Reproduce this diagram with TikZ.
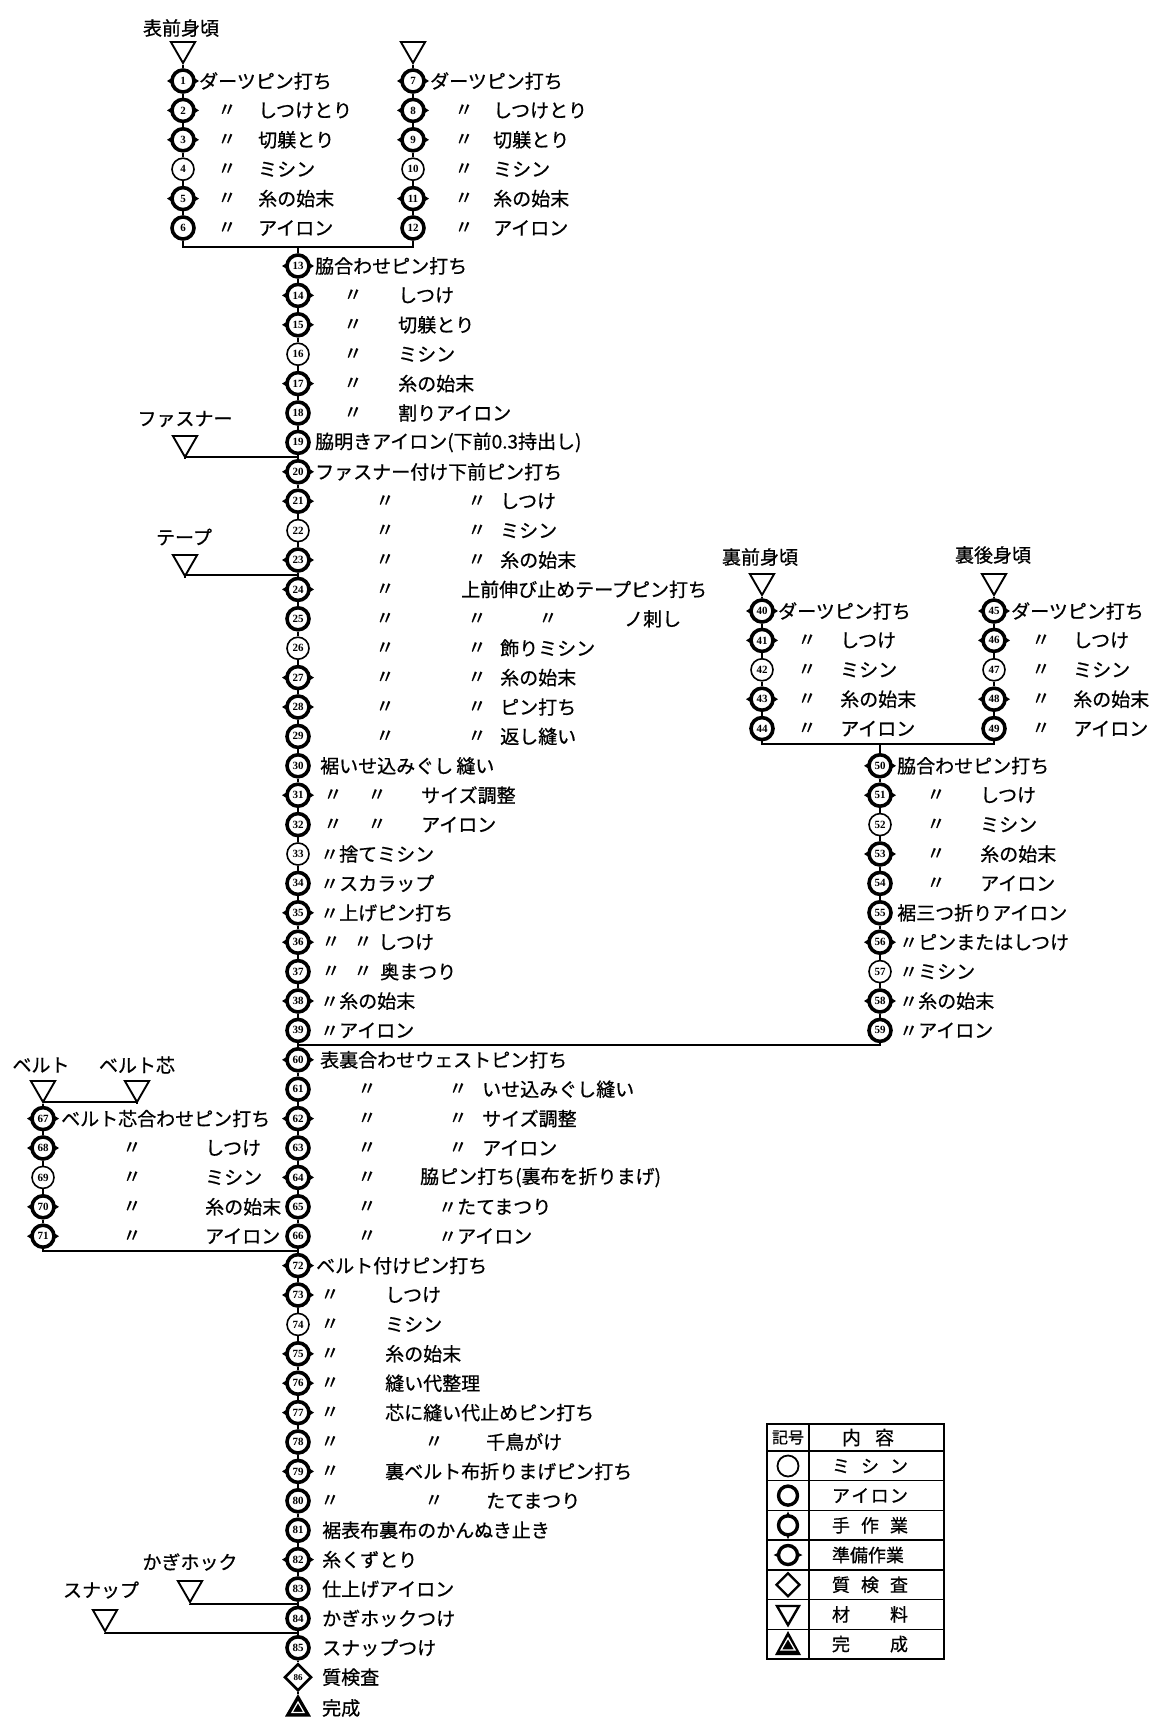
\documentclass[tikz,border=0pt]{standalone}
\usepackage{fontspec}
\setmainfont{Noto Sans CJK JP}[FakeBold=0.7]
\newfontfamily\numf{Liberation Serif}
\usetikzlibrary{shapes.geometric}
\tikzset{
  lbl/.style={anchor=west, inner sep=0pt, font=\fontsize{19}{19}\selectfont},
  dit/.style={anchor=center, inner sep=0pt, font=\fontsize{19}{19}\selectfont},
  hd/.style={inner sep=0pt, font=\fontsize{19}{19}\selectfont},
  base/.style={circle, draw, fill=white, minimum size=22pt, inner sep=0pt, font=\numf\bfseries\fontsize{11}{11}\selectfont},
  mst/.style={base, line width=1.6pt},
  ast/.style={base, line width=3.6pt},
  conn/.style={line width=1.6pt},
  joinline/.style={line width=2.4pt},
  mat/.style={regular polygon, regular polygon sides=3, shape border rotate=180, draw, line width=1.9pt, minimum size=28pt, inner sep=0pt},
}
\newcommand\Ms[3]{\node[mst] (n#1) at (#2,#3) {#1};}
\newcommand\As[3]{\node[ast] (n#1) at (#2,#3) {#1};}
\newcommand\Ps[3]{\fill (#2-16,#3) -- (#2,#3-10) -- (#2+16,#3) -- (#2,#3+10) -- cycle; \node[ast] (n#1) at (#2,#3) {#1};}
\newcommand\T[4]{\node[lbl] (#1) at (#2,#3) {#4};}
\newcommand\D[3]{\node[dit] (#1) at (#2,#3) {〃};}
\begin{document}
\begin{tikzpicture}[x=1pt,y=-1pt]
\fill[white] (0,0) rectangle (1160,1731);
\useasboundingbox (0,0) rectangle (1160,1731);

% ---------- materials ----------
\node[mat] (tA) at (183,49) {};  \node[hd] (lA) at (181,28) {表前身頃};
\node[mat] (tB) at (413,49) {};
\node[mat] (tC) at (762,581) {}; \node[hd] (lC) at (760,557) {裏前身頃};
\node[mat] (tD) at (994,581) {}; \node[hd] (lD) at (993,555) {裏後身頃};
\node[mat] (tF) at (185,443) {}; \node[hd] (lF) at (185,419) {ファスナー};
\node[mat] (tT) at (185,562) {}; \node[hd] (lT) at (184,537) {テープ};
\node[mat] (tBe) at (43,1088) {}; \node[hd] (lBe) at (41,1065) {ベルト};
\node[mat] (tBc) at (137,1088) {}; \node[hd] (lBc) at (137,1065) {ベルト芯};
\node[mat] (tK) at (190,1588) {}; \node[hd] (lK) at (190,1562) {かぎホック};
\node[mat] (tS) at (105,1617) {}; \node[hd] (lS) at (101,1590) {スナップ};

% ---------- top left 1-6 ----------
\Ps{1}{183}{81}     \T{t1}{199}{81}{ダーツピン打ち}
\Ps{2}{183}{110.4}  \D{d2}{227}{110.4} \T{t2}{258}{110.4}{しつけとり}
\Ps{3}{183}{139.8}  \D{d3}{227}{139.8} \T{t3}{258}{139.8}{切躾とり}
\Ms{4}{183}{169.2}  \D{d4}{227}{169.2} \T{t4}{258}{169.2}{ミシン}
\Ps{5}{183}{198.6}  \D{d5}{227}{198.6} \T{t5}{258}{198.6}{糸の始末}
\As{6}{183}{228}    \D{d6}{227}{228}   \T{t6}{258}{228}{アイロン}
% ---------- top right 7-12 ----------
\Ps{7}{413}{81}     \T{t7}{430}{81}{ダーツピン打ち}
\Ps{8}{413}{110.4}  \D{d8}{464}{110.4}  \T{t8}{493}{110.4}{しつけとり}
\Ps{9}{413}{139.8}  \D{d9}{464}{139.8}  \T{t9}{493}{139.8}{切躾とり}
\Ms{10}{413}{169.2} \D{d10}{464}{169.2} \T{t10}{493}{169.2}{ミシン}
\Ps{11}{413}{198.6} \D{d11}{464}{198.6} \T{t11}{493}{198.6}{糸の始末}
\As{12}{413}{228}   \D{d12}{464}{228}   \T{t12}{493}{228}{アイロン}

% ---------- main column ----------
\Ps{13}{298}{266}    \T{t13}{315}{266}{脇合わせピン打ち}
\Ps{14}{298}{295.4}  \D{d14}{353}{295.4} \T{t14}{398}{295.4}{しつけ}
\Ps{15}{298}{324.8}  \D{d15}{353}{324.8} \T{t15}{398}{324.8}{切躾とり}
\Ms{16}{298}{354.2}  \D{d16}{353}{354.2} \T{t16}{398}{354.2}{ミシン}
\Ps{17}{298}{383.6}  \D{d17}{353}{383.6} \T{t17}{398}{383.6}{糸の始末}
\As{18}{298}{413}    \D{d18}{353}{413}   \T{t18}{398}{413}{割りアイロン}
\As{19}{298}{442.4}  \T{t19}{315}{442.4}{脇明きアイロン(下前0.3持出し)}
\Ps{20}{298}{471.8}  \T{t20}{315}{471.8}{ファスナー付け下前ピン打ち}
\Ps{21}{298}{501.2}  \D{d21a}{385}{501.2} \D{d21b}{477}{501.2} \T{t21}{500}{501.2}{しつけ}
\Ms{22}{298}{530.6}  \D{d22a}{385}{530.6} \D{d22b}{477}{530.6} \T{t22}{500}{530.6}{ミシン}
\Ps{23}{298}{560}    \D{d23a}{385}{560}   \D{d23b}{477}{560}   \T{t23}{500}{560}{糸の始末}
\Ps{24}{298}{589.4}  \D{d24a}{385}{589.4} \T{t24}{461}{589.4}{上前伸び止めテープピン打ち}
\As{25}{298}{618.8}  \D{d25a}{385}{618.8} \D{d25b}{477}{618.8} \D{d25c}{548}{618.8} \T{t25}{624}{618.8}{ノ刺し}
\Ms{26}{298}{648.2}  \D{d26a}{385}{648.2} \D{d26b}{477}{648.2} \T{t26}{500}{648.2}{飾りミシン}
\Ps{27}{298}{677.6}  \D{d27a}{385}{677.6} \D{d27b}{477}{677.6} \T{t27}{500}{677.6}{糸の始末}
\Ps{28}{298}{707}    \D{d28a}{385}{707}   \D{d28b}{477}{707}   \T{t28}{500}{707}{ピン打ち}
\As{29}{298}{736.4}  \D{d29a}{385}{736.4} \D{d29b}{477}{736.4} \T{t29}{500}{736.4}{返し縫い}
\As{30}{298}{765.8}  \T{t30}{320}{765.8}{裾いせ込みぐし\,縫い}
\Ps{31}{298}{795.2}  \D{d31a}{333}{795.2} \D{d31b}{377}{795.2} \T{t31}{421}{795.2}{サイズ調整}
\As{32}{298}{824.6}  \D{d32a}{333}{824.6} \D{d32b}{377}{824.6} \T{t32}{421}{824.6}{アイロン}
\Ms{33}{298}{854}    \T{t33}{320}{854}{〃捨てミシン}
\As{34}{298}{883.4}  \T{t34}{320}{883.4}{〃スカラップ}
\Ps{35}{298}{912.8}  \T{t35}{320}{912.8}{〃上げピン打ち}
\Ps{36}{298}{942.2}  \D{d36a}{331}{942.2} \D{d36b}{363}{942.2} \T{t36}{378}{942.2}{しつけ}
\As{37}{298}{971.6}  \D{d37a}{331}{971.6} \D{d37b}{363}{971.6} \T{t37}{380}{971.6}{奥まつり}
\Ps{38}{298}{1001}   \T{t38}{320}{1001}{〃糸の始末}
\As{39}{298}{1030.4} \T{t39}{320}{1030.4}{〃アイロン}
\Ps{60}{298}{1059.8} \T{t60}{320}{1059.8}{表裏合わせウェストピン打ち}
\As{61}{298}{1089.2} \D{d61a}{367}{1089.2} \D{d61b}{458}{1089.2} \T{t61}{482}{1089.2}{いせ込みぐし縫い}
\Ps{62}{298}{1118.6} \D{d62a}{367}{1118.6} \D{d62b}{458}{1118.6} \T{t62}{482}{1118.6}{サイズ調整}
\As{63}{298}{1148}   \D{d63a}{367}{1148}   \D{d63b}{458}{1148}   \T{t63}{482}{1148}{アイロン}
\Ps{64}{298}{1177.4} \D{d64a}{367}{1177.4} \T{t64}{420}{1177.4}{脇ピン打ち(裏布を折りまげ)}
\As{65}{298}{1206.8} \D{d65a}{367}{1206.8} \T{t65}{438}{1206.8}{〃たてまつり}
\As{66}{298}{1236.2} \D{d66a}{367}{1236.2} \T{t66}{438}{1236.2}{〃アイロン}
\Ps{72}{298}{1265.6} \T{t72}{316}{1265.6}{ベルト付けピン打ち}
\Ps{73}{298}{1295}   \D{d73}{330}{1295}   \T{t73}{385}{1295}{しつけ}
\Ms{74}{298}{1324.4} \D{d74}{330}{1324.4} \T{t74}{385}{1324.4}{ミシン}
\Ps{75}{298}{1353.8} \D{d75}{330}{1353.8} \T{t75}{385}{1353.8}{糸の始末}
\Ps{76}{298}{1383.2} \D{d76}{330}{1383.2} \T{t76}{385}{1383.2}{縫い代整理}
\Ps{77}{298}{1412.6} \D{d77}{330}{1412.6} \T{t77}{385}{1412.6}{芯に縫い代止めピン打ち}
\As{78}{298}{1442}   \D{d78a}{330}{1442}  \D{d78b}{434}{1442} \T{t78}{486}{1442}{千鳥がけ}
\Ps{79}{298}{1471.4} \D{d79}{330}{1471.4} \T{t79}{385}{1471.4}{裏ベルト布折りまげピン打ち}
\As{80}{298}{1500.8} \D{d80a}{330}{1500.8} \D{d80b}{434}{1500.8} \T{t80}{486}{1500.8}{たてまつり}
\As{81}{298}{1530.2} \T{t81}{322}{1530.2}{裾表布裏布のかんぬき止き}
\Ps{82}{298}{1559.6} \T{t82}{322}{1559.6}{糸くずとり}
\As{83}{298}{1589}   \T{t83}{322}{1589}{仕上げアイロン}
\As{84}{298}{1618.4} \T{t84}{322}{1618.4}{かぎホックつけ}
\As{85}{298}{1647.8} \T{t85}{322}{1647.8}{スナップつけ}
\node[diamond, draw, fill=white, line width=2.6pt, minimum size=27pt, inner sep=0pt, font=\numf\bfseries\fontsize{9}{9}\selectfont] (n86) at (298,1677.2) {86};
\T{t86}{322}{1677.2}{質検査}
\node[regular polygon, regular polygon sides=3, fill=black, minimum size=30pt, inner sep=0pt] (done) at (298,1709) {};
\node[regular polygon, regular polygon sides=3, draw=white, line width=1.2pt, minimum size=14pt, inner sep=0pt] (doneIn) at (done.center) {};
\T{t87}{322}{1708}{完成}

% ---------- right top 40-49 ----------
\Ps{40}{762}{611}   \T{t40}{778}{611}{ダーツピン打ち}
\Ps{41}{762}{640.4} \D{d41}{807}{640.4} \T{t41}{840}{640.4}{しつけ}
\Ms{42}{762}{669.8} \D{d42}{807}{669.8} \T{t42}{840}{669.8}{ミシン}
\Ps{43}{762}{699.2} \D{d43}{807}{699.2} \T{t43}{840}{699.2}{糸の始末}
\As{44}{762}{728.6} \D{d44}{807}{728.6} \T{t44}{840}{728.6}{アイロン}
\Ps{45}{994}{611}   \T{t45}{1011}{611}{ダーツピン打ち}
\Ps{46}{994}{640.4} \D{d46}{1041}{640.4} \T{t46}{1073}{640.4}{しつけ}
\Ms{47}{994}{669.8} \D{d47}{1041}{669.8} \T{t47}{1073}{669.8}{ミシン}
\Ps{48}{994}{699.2} \D{d48}{1041}{699.2} \T{t48}{1073}{699.2}{糸の始末}
\As{49}{994}{728.6} \D{d49}{1041}{728.6} \T{t49}{1073}{728.6}{アイロン}

% ---------- right bottom 50-59 ----------
\Ps{50}{880}{765.8}  \T{t50}{897}{765.8}{脇合わせピン打ち}
\Ps{51}{880}{795.2}  \D{d51}{936}{795.2} \T{t51}{980}{795.2}{しつけ}
\Ms{52}{880}{824.6}  \D{d52}{936}{824.6} \T{t52}{980}{824.6}{ミシン}
\Ps{53}{880}{854}    \D{d53}{936}{854}   \T{t53}{980}{854}{糸の始末}
\As{54}{880}{883.4}  \D{d54}{936}{883.4} \T{t54}{980}{883.4}{アイロン}
\As{55}{880}{912.8}  \T{t55}{897}{912.8}{裾三つ折りアイロン}
\Ps{56}{880}{942.2}  \T{t56}{899}{942.2}{〃ピンまたはしつけ}
\Ms{57}{880}{971.6}  \T{t57}{899}{971.6}{〃ミシン}
\Ps{58}{880}{1001}   \T{t58}{899}{1001}{〃糸の始末}
\As{59}{880}{1030.4} \T{t59}{899}{1030.4}{〃アイロン}

% ---------- left 67-71 ----------
\Ps{67}{43}{1118.6} \T{t67}{61}{1118.6}{ベルト芯合わせピン打ち}
\Ps{68}{43}{1148}   \D{d68}{132}{1148}   \T{t68}{205}{1148}{しつけ}
\Ms{69}{43}{1177.4} \D{d69}{132}{1177.4} \T{t69}{205}{1177.4}{ミシン}
\Ps{70}{43}{1206.8} \D{d70}{132}{1206.8} \T{t70}{205}{1206.8}{糸の始末}
\Ps{71}{43}{1236.2} \D{d71}{132}{1236.2} \T{t71}{205}{1236.2}{アイロン}

% ---------- join points ----------
\coordinate (j1) at (298,247);
\coordinate (jF) at (298,457);
\coordinate (jT) at (298,575);
\coordinate (jR) at (880,744);
\coordinate (jRB) at (298,1045);
\coordinate (jB) at (43,1102);
\coordinate (jL) at (298,1251);
\coordinate (jK) at (298,1604);
\coordinate (jS) at (298,1633);

% ---------- connectors ----------
\draw[conn] (tA) -- (n1) -- (n2) -- (n3) -- (n4) -- (n5) -- (n6);
\draw[conn] (tB) -- (n7) -- (n8) -- (n9) -- (n10) -- (n11) -- (n12);
\draw[joinline] (n6) |- (j1) -| (n12);
\draw[conn] (j1) -- (n13);
\draw[conn] (n13) -- (n14) -- (n15) -- (n16) -- (n17) -- (n18) -- (n19) -- (n20) -- (n21) -- (n22) -- (n23) -- (n24) -- (n25) -- (n26) -- (n27) -- (n28) -- (n29) -- (n30) -- (n31) -- (n32) -- (n33) -- (n34) -- (n35) -- (n36) -- (n37) -- (n38) -- (n39) -- (n60) -- (n61) -- (n62) -- (n63) -- (n64) -- (n65) -- (n66) -- (n72) -- (n73) -- (n74) -- (n75) -- (n76) -- (n77) -- (n78) -- (n79) -- (n80) -- (n81) -- (n82) -- (n83) -- (n84) -- (n85) -- (n86) -- (done);
\draw[joinline] (tF) |- (jF);
\draw[joinline] (tT) |- (jT);
\draw[conn] (tC) -- (n40) -- (n41) -- (n42) -- (n43) -- (n44);
\draw[conn] (tD) -- (n45) -- (n46) -- (n47) -- (n48) -- (n49);
\draw[joinline] (n44) |- (jR) -| (n49);
\draw[conn] (jR) -- (n50) -- (n51) -- (n52) -- (n53) -- (n54) -- (n55) -- (n56) -- (n57) -- (n58) -- (n59);
\draw[joinline] (n59) |- (jRB);
\draw[conn] (tBe) -- (n67) -- (n68) -- (n69) -- (n70) -- (n71);
\draw[joinline] (jB) -| (tBc);
\draw[joinline] (n71) |- (jL);
\draw[joinline] (tK) |- (jK);
\draw[joinline] (tS) |- (jS);

% ---------- legend ----------
\draw[line width=1.8pt] (767,1424) rectangle (944,1659);
\draw[line width=1.4pt] (809,1424) -- (809,1659);
\draw[line width=2.6pt] (767,1451) -- (944,1451);
\foreach \k in {1,...,6} \draw[line width=1.4pt] (767,{1451+29.7*\k}) -- (944,{1451+29.7*\k});
\node[inner sep=0pt, font=\fontsize{16}{16}\selectfont] (lg0a) at (788,1437.5) {記号};
\node[inner sep=0pt, font=\fontsize{19}{19}\selectfont] (lg0b) at (868,1437.5) {内\hspace{14pt}容};
\node[inner sep=0pt, font=\fontsize{18}{18}\selectfont] (lg1) at (870,1466) {\makebox[76pt][s]{ミ\hfill シ\hfill ン}};
\node[inner sep=0pt, font=\fontsize{18}{18}\selectfont] (lg2) at (870,1495.6) {\makebox[76pt][s]{ア\hfill イ\hfill ロ\hfill ン}};
\node[inner sep=0pt, font=\fontsize{18}{18}\selectfont] (lg3) at (870,1525.3) {\makebox[76pt][s]{手\hfill 作\hfill 業}};
\node[inner sep=0pt, font=\fontsize{18}{18}\selectfont] (lg4) at (870,1555) {\makebox[76pt][s]{準備作業}};
\node[inner sep=0pt, font=\fontsize{18}{18}\selectfont] (lg5) at (870,1584.7) {\makebox[76pt][s]{質\hfill 検\hfill 査}};
\node[inner sep=0pt, font=\fontsize{18}{18}\selectfont] (lg6) at (870,1614.4) {\makebox[76pt][s]{材\hfill 料}};
\node[inner sep=0pt, font=\fontsize{18}{18}\selectfont] (lg7) at (870,1644.1) {\makebox[76pt][s]{完\hfill 成}};
% legend symbols
\draw[line width=1.8pt] (788,1466) circle (10.5);
\draw[line width=3.4pt] (788,1495.6) circle (9.5);
\fill (788,1525.3-14) -- (794,1525.3) -- (788,1525.3+14) -- (782,1525.3) -- cycle;
\draw[line width=3.4pt, fill=white] (788,1525.3) circle (9.5);
\fill (788-14.5,1555) -- (788,1555-7) -- (788+14.5,1555) -- (788,1555+7) -- cycle;
\draw[line width=3.4pt, fill=white] (788,1555) circle (9.5);
\draw[line width=2.4pt] (788,1584.7-11.5) -- (799.5,1584.7) -- (788,1584.7+11.5) -- (776.5,1584.7) -- cycle;
\draw[line width=2.4pt] (777,1606) -- (799,1606) -- (788,1625) -- cycle;
\fill (775,1655) -- (801,1655) -- (788,1631) -- cycle;
\draw[white, line width=1.3pt] (781,1650) -- (795,1650) -- (788,1638) -- cycle;
\end{tikzpicture}
\end{document}
